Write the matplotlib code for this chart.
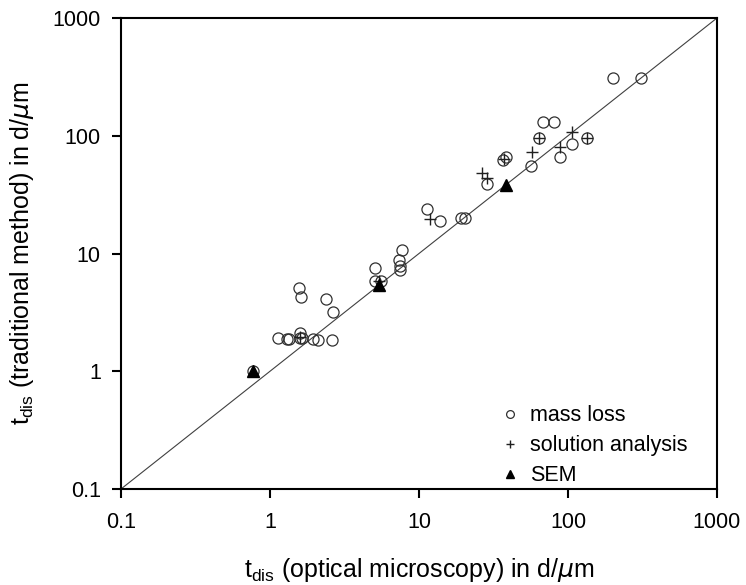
import numpy as np
import matplotlib.pyplot as plt

plt.rcParams['font.family'] = ['Liberation Sans', 'DejaVu Sans']

# mass loss (open circles)
mass_x = [0.77, 1.13, 1.30, 1.34, 1.59, 1.64, 1.60, 1.94, 2.10, 2.61,
          1.57, 1.61, 2.37, 2.66, 5.07, 5.1, 5.6, 7.65, 7.38, 7.45, 7.5,
          11.3, 13.8, 19.1, 20.4, 28.7, 36.5, 38.4, 56.4, 64, 68, 80,
          88, 107, 135, 201, 310]
mass_y = [1.0, 1.9, 1.88, 1.88, 1.9, 1.9, 2.1, 1.88, 1.85, 1.85,
          5.06, 4.3, 4.08, 3.2, 7.6, 5.8, 5.8, 10.7, 8.8, 7.9, 7.2,
          23.7, 19.0, 20.0, 20.0, 39, 62, 66, 55.7, 95, 132, 132,
          66, 85, 95, 307, 307]

# solution analysis (plus)
sol_x = [1.6, 5.4, 11.9, 26.4, 28.7, 37, 57, 64, 88, 107, 135]
sol_y = [1.95, 5.8, 19.5, 48.6, 43.5, 64, 73, 95, 80, 107, 95]

# SEM (filled triangles)
sem_x = [0.77, 5.39, 38.4]
sem_y = [1.0, 5.4, 38.2]

fig = plt.figure(figsize=(7.46, 5.85), dpi=100)
ax = fig.add_axes([0.1622, 0.1641, 0.7989, 0.8051])

ax.plot([0.1, 1000], [0.1, 1000], color='#404040', lw=0.8, zorder=1)

ax.plot(mass_x, mass_y, 'o', ms=8, mfc='none', mec='#303030', mew=0.9,
        ls='none', label='mass loss', zorder=2)
ax.plot(sol_x, sol_y, '+', ms=9, mec='#202020', mew=1.0,
        ls='none', label='solution analysis', zorder=3)
ax.plot(sem_x, sem_y, '^', ms=8, color='black',
        ls='none', label='SEM', zorder=4)

ax.set_xscale('log')
ax.set_yscale('log')
ax.set_xlim(0.1, 1000)
ax.set_ylim(0.1, 1000)
ticks = [0.1, 1, 10, 100, 1000]
tick_labels = ['0.1', '1', '10', '100', '1000']
ax.set_xticks(ticks)
ax.set_xticklabels(tick_labels)
ax.set_yticks(ticks)
ax.set_yticklabels(tick_labels)
ax.minorticks_off()
ax.tick_params(direction='out', length=6.5, width=1.5, labelsize=15.5)
ax.tick_params(axis='x', pad=10)
ax.tick_params(axis='y', pad=8)

for s in ax.spines.values():
    s.set_linewidth(1.5)

ax.set_xlabel('t$_\\mathregular{dis}$ (optical microscopy) in d/$\\mu$m',
              fontsize=18, va='center')
ax.set_ylabel('t$_\\mathregular{dis}$ (traditional method) in d/$\\mu$m',
              fontsize=18, va='center')
ax.xaxis.set_label_coords(0.5, -0.172)
ax.yaxis.set_label_coords(-0.166, 0.5)

ax.legend(loc='upper left', bbox_to_anchor=(0.634, 0.178), frameon=False,
          fontsize=15.5, borderpad=0, borderaxespad=0, handlelength=1.0,
          handletextpad=0.45, markerscale=0.7, labelspacing=0.42)

fig.savefig('out.png', dpi=100)
